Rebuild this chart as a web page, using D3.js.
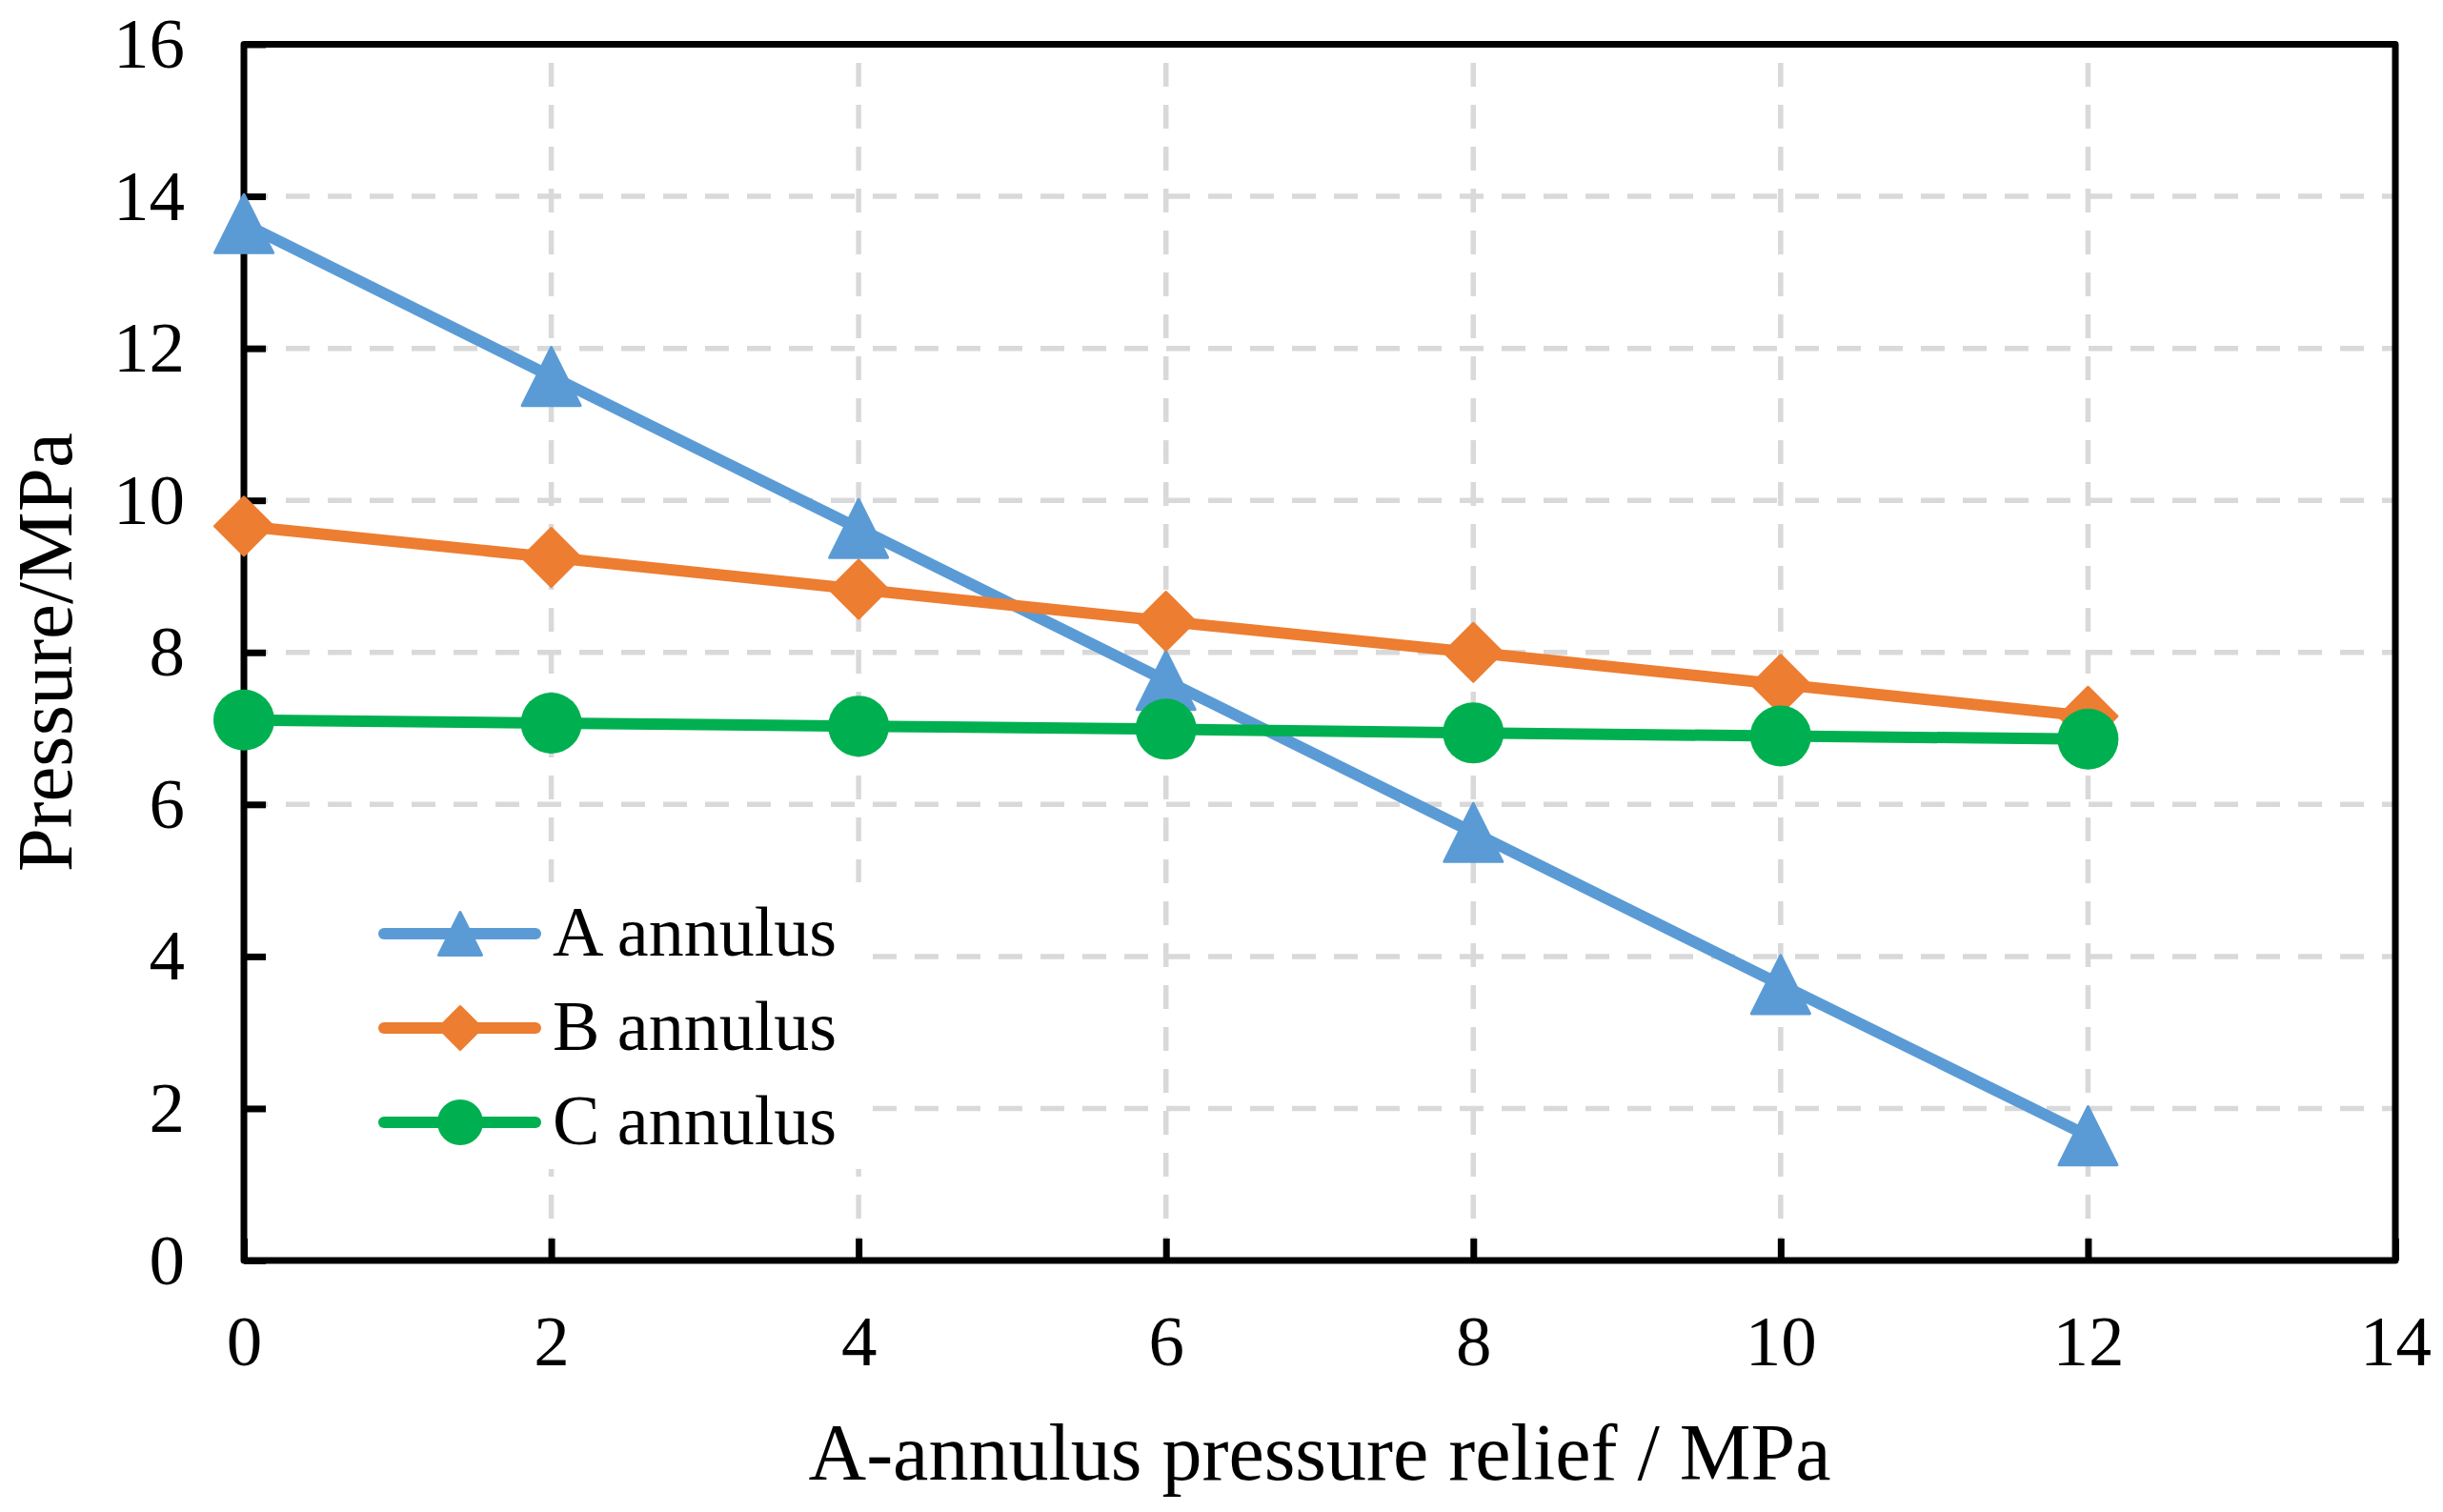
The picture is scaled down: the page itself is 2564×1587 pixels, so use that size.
<!DOCTYPE html>
<html>
<head>
<meta charset="utf-8">
<script src="https://cdn.jsdelivr.net/npm/d3@7"></script>
<style>
  html, body { margin: 0; padding: 0; background: #fff; }
  svg { display: block; }
</style>
</head>
<body>
<div id="chart"></div>
<script>
// ---- data ----
const xValues = [0, 2, 4, 6, 8, 10, 12];
const seriesNames = ["A annulus", "B annulus", "C annulus"];
const aValues = [13.64, 11.63, 9.63, 7.63, 5.63, 3.63, 1.64];
const bValues = [9.66, 9.25, 8.83, 8.41, 8.0, 7.58, 7.16];
const cValues = [7.11, 7.07, 7.03, 6.99, 6.94, 6.90, 6.86];
const xTicks = [0, 2, 4, 6, 8, 10, 12, 14];
const yTicks = [0, 2, 4, 6, 8, 10, 12, 14, 16];
const xTitle = "A-annulus pressure relief / MPa";
const yTitle = "Pressure/MPa";

const colors = ["#5B9BD5", "#ED7D31", "#00B050"];
const shapes = ["triangle", "diamond", "circle"];
const allSeries = [aValues, bValues, cValues];

const W = 2564, H = 1587;
const FONT = "'Liberation Serif', 'Times New Roman', serif";

const svg = d3.select("#chart").append("svg")
  .attr("width", W).attr("height", H)
  .attr("viewBox", `0 0 ${W} ${H}`);

const x = d3.scaleLinear().domain([0, 14]).range([256, 2514]);
const y = d3.scaleLinear().domain([0, 16]).range([1323, 46.5]);

// ---- grid ----
const grid = svg.append("g");
grid.selectAll("line.h").data(yTicks.filter(v => v > 0 && v < 16)).enter()
  .append("line")
  .attr("x1", x(0)).attr("x2", x(14))
  .attr("y1", d => y(d)).attr("y2", d => y(d))
  .attr("stroke", "#D9D9D9").attr("stroke-width", 5.5)
  .attr("stroke-dasharray", "25 19");
grid.selectAll("line.v").data(xTicks.filter(v => v > 0 && v < 14)).enter()
  .append("line")
  .attr("x1", d => x(d)).attr("x2", d => x(d))
  .attr("y1", y(0)).attr("y2", y(16))
  .attr("stroke", "#D9D9D9").attr("stroke-width", 5.5)
  .attr("stroke-dasharray", "25 19");

// legend background (hides grid)
svg.append("rect")
  .attr("x", 262).attr("y", 926).attr("width", 648).attr("height", 301)
  .attr("fill", "#fff");

// ---- axes ----
const yAxis = d3.axisLeft(y).tickValues(yTicks).tickSizeInner(-23).tickSizeOuter(0).tickPadding(62);
const xAxis = d3.axisBottom(x).tickValues(xTicks).tickSizeInner(-23).tickSizeOuter(0).tickPadding(57);

const gy = svg.append("g").attr("transform", `translate(${x(0)},0)`).call(yAxis);
const gx = svg.append("g").attr("transform", `translate(0,${y(0)})`).call(xAxis);
[gx, gy].forEach(g => {
  g.select(".domain").remove();
  g.selectAll(".tick line").attr("stroke", "#000").attr("stroke-width", 7);
  g.selectAll(".tick text")
    .attr("fill", "#000")
    .style("font-family", FONT)
    .style("font-size", "75px");
});

// plot border
svg.append("rect")
  .attr("x", x(0)).attr("y", y(16))
  .attr("width", x(14) - x(0)).attr("height", y(0) - y(16))
  .attr("fill", "none").attr("stroke", "#000").attr("stroke-width", 7)
  .attr("stroke-linejoin", "round");

// ---- marker helper ----
function markerPath(shape, size) {
  const h = size / 2;
  if (shape === "triangle") return `M0,${-h} L${h},${h} L${-h},${h} Z`;
  if (shape === "diamond") return `M0,${-h} L${h},0 L0,${h} L${-h},0 Z`;
  return null;
}
function drawMarker(g, shape, cx, cy, size, color) {
  if (shape === "circle") {
    g.append("circle").attr("cx", cx).attr("cy", cy).attr("r", size / 2 + 1.5).attr("fill", color);
  } else {
    g.append("path").attr("d", markerPath(shape, size))
      .attr("transform", `translate(${cx},${cy})`)
      .attr("fill", color).attr("stroke", color)
      .attr("stroke-width", 3).attr("stroke-linejoin", "round");
  }
}

// ---- series ----
const line = d3.line().x(d => x(d[0])).y(d => y(d[1]));
allSeries.forEach((vals, i) => {
  const g = svg.append("g");
  const pts = xValues.map((xv, j) => [xv, vals[j]]);
  g.append("path").datum(pts)
    .attr("d", line)
    .attr("fill", "none").attr("stroke", colors[i])
    .attr("stroke-width", 12).attr("stroke-linejoin", "round");
  pts.forEach(p => drawMarker(g, shapes[i], x(p[0]), y(p[1]), 61, colors[i]));
});

// ---- legend ----
const legendRows = [980, 1079, 1178];
seriesNames.forEach((name, i) => {
  const g = svg.append("g");
  const cy = legendRows[i];
  g.append("line").attr("x1", 403).attr("x2", 562).attr("y1", cy).attr("y2", cy)
    .attr("stroke", colors[i]).attr("stroke-width", 12).attr("stroke-linecap", "round");
  drawMarker(g, shapes[i], 483, cy, 45, colors[i]);
  g.append("text").attr("x", 580).attr("y", cy + 23)
    .style("font-family", FONT).style("font-size", "74px")
    .attr("fill", "#000").text(name);
});

// ---- titles ----
svg.append("text")
  .attr("x", (x(0) + x(14)) / 2).attr("y", 1553)
  .attr("text-anchor", "middle")
  .style("font-family", FONT).style("font-size", "84px")
  .attr("fill", "#000").text(xTitle);

svg.append("text")
  .attr("transform", `translate(75,${(y(0) + y(16)) / 2}) rotate(-90)`)
  .attr("text-anchor", "middle")
  .style("font-family", FONT).style("font-size", "83px")
  .attr("fill", "#000").text(yTitle);
</script>
</body>
</html>
